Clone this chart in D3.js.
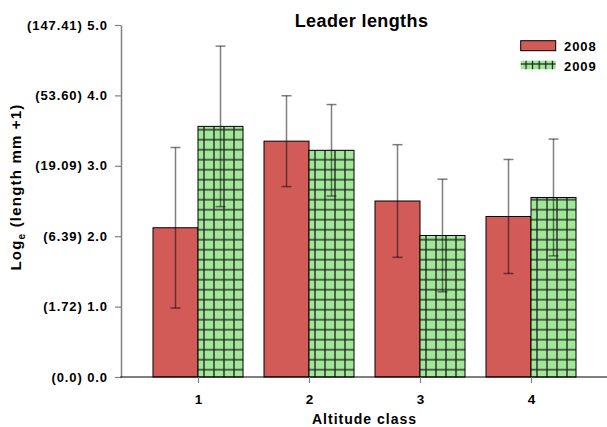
<!DOCTYPE html>
<html>
<head>
<meta charset="utf-8">
<script src="https://cdn.jsdelivr.net/npm/d3@7/dist/d3.min.js"></script>
<style>
  html, body { margin: 0; padding: 0; background: #fff; }
  svg { display: block; font-family: "Liberation Sans", Arial, sans-serif; font-weight: bold; }
</style>
</head>
<body>
<svg id="chart" width="607" height="427"></svg>
<script>
// Altitude classes on the x axis
const classes = [1, 2, 3, 4];
const years = ["2008", "2009"];

// Mean log_e(length mm + 1) per altitude class
const mean2008 = [2.12, 3.35, 2.50, 2.28];
const mean2009 = [3.56, 3.22, 2.01, 2.55];

// Half-length of each error bar
const err2008 = [1.14, 0.645, 0.80, 0.81];
const err2009 = [1.14, 0.65, 0.80, 0.83];

// Y ticks: log value with back-transformed length in brackets
const yTicks = [0, 1, 2, 3, 4, 5];
const yTickLabels = ["(0.0) 0.0", "(1.72) 1.0", "(6.39) 2.0", "(19.09) 3.0", "(53.60) 4.0", "(147.41) 5.0"];

const title = "Leader lengths";
const xTitle = "Altitude class";

const rows = classes.map((c, i) => ({
  cls: c,
  values: [
    { year: years[0], mean: mean2008[i], err: err2008[i] },
    { year: years[1], mean: mean2009[i], err: err2009[i] }
  ]
}));

const svg = d3.select("#chart");
const axisLeftX = 121, axisRightX = 607, plotTop = 25, plotBottom = 377;

const y = d3.scaleLinear().domain([0, 5]).range([plotBottom, plotTop]);
const x0 = d3.scaleBand().domain(classes).range([142.5, 586.5])
  .paddingInner(21 / 111).paddingOuter(21 / 222);
const x1 = d3.scaleBand().domain(years).range([0, x0.bandwidth()]);

const red = "#d35b57", green = "#a0e897", hatch = "#1c1c1c";

// Cross-hatch fills for the 2009 bars and legend key
const defs = svg.append("defs");
const pat = defs.append("pattern").attr("id", "grid09")
  .attr("patternUnits", "userSpaceOnUse")
  .attr("x", -4).attr("y", 4.7).attr("width", 10).attr("height", 10);
pat.append("rect").attr("width", 10).attr("height", 10).attr("fill", green);
pat.append("line").attr("x1", 5).attr("x2", 5).attr("y1", 0).attr("y2", 10)
  .attr("stroke", hatch).attr("stroke-width", 1.3);
pat.append("line").attr("x1", 0).attr("x2", 10).attr("y1", 5).attr("y2", 5)
  .attr("stroke", hatch).attr("stroke-width", 1.3);

const patL = defs.append("pattern").attr("id", "grid09key")
  .attr("patternUnits", "userSpaceOnUse")
  .attr("x", 526 - 3.3).attr("y", 64 - 5).attr("width", 6.6).attr("height", 10);
patL.append("rect").attr("width", 6.6).attr("height", 10).attr("fill", green);
patL.append("line").attr("x1", 3.3).attr("x2", 3.3).attr("y1", 0).attr("y2", 10)
  .attr("stroke", hatch).attr("stroke-width", 1.2);
patL.append("line").attr("x1", 0).attr("x2", 6.6).attr("y1", 5).attr("y2", 5)
  .attr("stroke", hatch).attr("stroke-width", 1.2);

const fillFor = yr => yr === "2008" ? red : "url(#grid09)";

// Bars
const groups = svg.append("g").selectAll("g").data(rows).join("g")
  .attr("transform", d => `translate(${x0(d.cls)},0)`);

groups.selectAll("rect").data(d => d.values).join("rect")
  .attr("x", d => x1(d.year))
  .attr("y", d => y(d.mean))
  .attr("width", x1.bandwidth())
  .attr("height", d => y(0) - y(d.mean))
  .attr("fill", d => fillFor(d.year))
  .attr("stroke", "#000")
  .attr("stroke-width", 1);

// Error bars
const eb = groups.selectAll("g.err").data(d => d.values).join("g").attr("class", "err")
  .attr("stroke", "#000").attr("stroke-opacity", 0.5).attr("stroke-width", 1.5);
const cx = d => x1(d.year) + x1.bandwidth() / 2;
eb.append("line").attr("x1", cx).attr("x2", cx)
  .attr("y1", d => y(d.mean + d.err)).attr("y2", d => y(d.mean - d.err));
eb.append("line").attr("x1", d => cx(d) - 5).attr("x2", d => cx(d) + 5)
  .attr("y1", d => y(d.mean + d.err)).attr("y2", d => y(d.mean + d.err));
eb.append("line").attr("x1", d => cx(d) - 5).attr("x2", d => cx(d) + 5)
  .attr("y1", d => y(d.mean - d.err)).attr("y2", d => y(d.mean - d.err));

// Y axis
const yAxis = svg.append("g").attr("transform", `translate(${axisLeftX},0)`)
  .call(d3.axisLeft(y).tickValues(yTicks).tickSize(6).tickSizeOuter(0).tickPadding(7)
    .tickFormat((d, i) => yTickLabels[i]));
yAxis.select(".domain").attr("stroke", "#808080").attr("stroke-width", 1.5);
yAxis.selectAll(".tick line").attr("stroke", "#808080").attr("stroke-width", 1.2);
yAxis.selectAll(".tick text").attr("fill", "#000")
  .style("font-size", "13px").style("letter-spacing", "0.9px")
  .style("font-weight", "bold").style("font-family", "'Liberation Sans', Arial, sans-serif");

// X axis
const centers = d3.scalePoint().domain(classes)
  .range([x0(1) + x0.bandwidth() / 2, x0(4) + x0.bandwidth() / 2]);
svg.append("line").attr("x1", axisLeftX - 0.75).attr("x2", axisRightX)
  .attr("y1", plotBottom).attr("y2", plotBottom).attr("stroke", "#000").attr("stroke-width", 1.2);
const xAxis = svg.append("g").attr("transform", `translate(0,${plotBottom})`)
  .call(d3.axisBottom(centers).tickSize(6).tickSizeOuter(0).tickPadding(11));
xAxis.select(".domain").remove();
xAxis.selectAll(".tick line").attr("stroke", "#808080").attr("stroke-width", 1.2);
xAxis.selectAll(".tick text").attr("fill", "#000")
  .style("font-size", "13.5px").style("font-weight", "bold")
  .style("font-family", "'Liberation Sans', Arial, sans-serif");

// Titles
svg.append("text").attr("x", 361.5).attr("y", 27.3).attr("text-anchor", "middle")
  .style("font-size", "18px").style("letter-spacing", "0.4px").text(title);

svg.append("text").attr("x", 364.5).attr("y", 424).attr("text-anchor", "middle")
  .style("font-size", "14px").style("letter-spacing", "1px").text(xTitle);

const yt = svg.append("text").attr("transform", "translate(21,187) rotate(-90)")
  .attr("text-anchor", "middle").style("font-size", "15px").style("letter-spacing", "1.2px");
yt.append("tspan").text("Log");
yt.append("tspan").attr("dy", 4).style("font-size", "10px").text("e");
yt.append("tspan").attr("dy", -4).text(" (length mm +1)");

// Legend
const legend = svg.append("g");
const keyY = [40.7, 60.7];
legend.selectAll("rect").data(years).join("rect")
  .attr("x", 520.7).attr("y", (d, i) => keyY[i])
  .attr("width", 35).attr("height", (d, i) => i === 0 ? 10 : 8.6)
  .attr("fill", (d, i) => i === 0 ? red : "url(#grid09key)")
  .attr("stroke", (d, i) => i === 0 ? "#000" : "none").attr("stroke-width", 1);
legend.selectAll("text").data(years).join("text")
  .attr("x", 564).attr("y", (d, i) => keyY[i] + 10)
  .style("font-size", "13px").style("letter-spacing", "0.9px").text(d => d);
</script>
</body>
</html>
